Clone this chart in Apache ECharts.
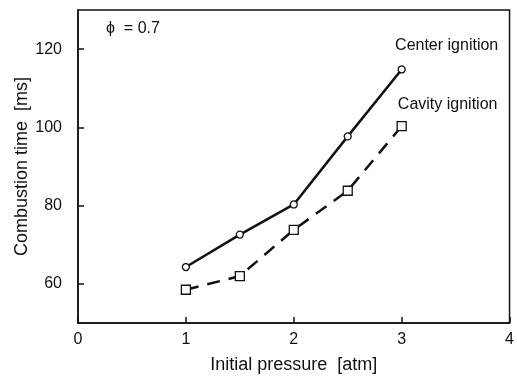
<!DOCTYPE html>
<html>
<head>
<meta charset="utf-8">
<script src="https://cdn.jsdelivr.net/npm/echarts@6/dist/echarts.min.js"></script>
<style>
  html, body { margin: 0; padding: 0; background: #fff; }
  #chart { width: 517px; height: 379px; }
</style>
</head>
<body>
<div id="chart"></div>
<script>
const pressures = [1, 1.5, 2, 2.5, 3];
const centerTimes = [64.3, 72.6, 80.3, 97.7, 114.8];
const cavityTimes = [58.5, 62.0, 73.8, 83.8, 100.3];
const xTicks = [0, 1, 2, 3, 4];
const yTicks = [60, 80, 100, 120];
const seriesNames = ['Center ignition', 'Cavity ignition'];
const phiNote = 'ϕ  = 0.7';

const font = 'Liberation Sans, Arial, sans-serif';

function pairs(values) {
  return values.map((v, i) => {
    const item = { value: [pressures[i], v] };
    if (i === values.length - 1) item.label = { show: true };
    return item;
  });
}

const chart = echarts.init(document.getElementById('chart'), null, { renderer: 'canvas' });
chart.setOption({
  animation: false,
  backgroundColor: '#fff',
  grid: {
    left: 78, right: 6, top: 10, bottom: 53,
    show: true, borderColor: '#111', borderWidth: 1.5, backgroundColor: 'transparent'
  },
  graphic: [{
    type: 'text', left: 106, top: 21,
    style: { text: phiNote, font: '16px ' + font, fill: '#111' }
  }],
  xAxis: {
    type: 'value', min: 0, max: 4, interval: 1,
    name: 'Initial pressure  [atm]', nameLocation: 'middle', nameGap: 33,
    nameMoveOverlap: false,
    nameTextStyle: { fontFamily: font, fontSize: 18, color: '#111' },
    axisLine: { show: true, lineStyle: { color: '#111', width: 1.5 } },
    axisTick: { show: true, inside: true, length: 6, lineStyle: { color: '#111', width: 1.5 } },
    axisLabel: {
      fontFamily: font, fontSize: 16, color: '#111', margin: 9,
      customValues: xTicks
    },
    splitLine: { show: false }
  },
  yAxis: {
    type: 'value', min: 50, max: 130, interval: 10,
    name: 'Combustion time  [ms]', nameLocation: 'middle', nameGap: 47,
    nameMoveOverlap: false,
    nameTextStyle: { fontFamily: font, fontSize: 18, color: '#111' },
    axisLine: { show: true, lineStyle: { color: '#111', width: 1.5 } },
    axisTick: { show: true, inside: true, length: 6, customValues: yTicks, lineStyle: { color: '#111', width: 1.5 } },
    axisLabel: {
      fontFamily: font, fontSize: 16, color: '#111', margin: 16,
      customValues: yTicks
    },
    splitLine: { show: false }
  },
  series: [
    {
      name: seriesNames[0], type: 'line', data: pairs(centerTimes),
      symbol: 'circle', symbolSize: 7, showSymbol: true,
      lineStyle: { color: '#111', width: 2.5, type: 'solid' },
      itemStyle: { color: '#fff', borderColor: '#111', borderWidth: 1.3 },
      label: {
        show: false, position: 'top', offset: [45, -7],
        formatter: seriesNames[0], fontFamily: font, fontSize: 16, color: '#111'
      },
      z: 3
    },
    {
      name: seriesNames[1], type: 'line', data: pairs(cavityTimes),
      symbol: 'rect', symbolSize: 9, showSymbol: true,
      lineStyle: { color: '#111', width: 2.5, type: [13, 9] },
      itemStyle: { color: '#fff', borderColor: '#111', borderWidth: 1.3 },
      label: {
        show: false, position: 'top', offset: [46, -3],
        formatter: seriesNames[1], fontFamily: font, fontSize: 16, color: '#111'
      },
      z: 2
    }
  ]
});
</script>
</body>
</html>
